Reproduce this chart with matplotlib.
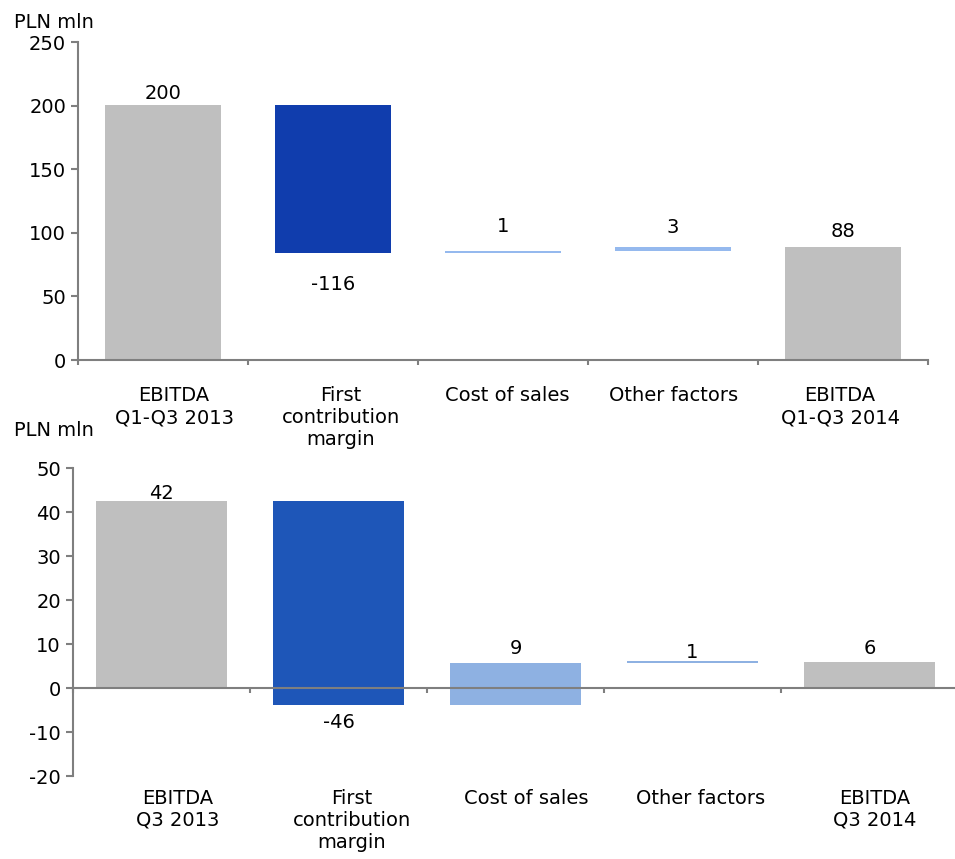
import numpy as np
import matplotlib.pyplot as plt

# top chart: Q1-Q3, PLN mln
top_labels = ['EBITDA\nQ1-Q3 2013', 'First\ncontribution\nmargin',
              'Cost of sales', 'Other factors', 'EBITDA\nQ1-Q3 2014']
top_values = [200.4, -116.0, 0.9, 3.2, 88.5]
top_texts = ['200', '-116', '1', '3', '88']

# bottom chart: Q3, PLN mln
bot_labels = ['EBITDA\nQ3 2013', 'First\ncontribution\nmargin',
              'Cost of sales', 'Other factors', 'EBITDA\nQ3 2014']
bot_values = [42.4, -46.3, 9.6, 0.4, 6.0]
bot_texts = ['42', '-46', '9', '1', '6']

GREY = '#bfbfbf'
AXIS = '#7f7f7f'
PX = 0.72  # points per pixel at dpi 100

plt.rcParams['font.family'] = ['DejaVu Sans Condensed', 'DejaVu Sans']
plt.rcParams['font.size'] = 14
plt.rcParams['axes.unicode_minus'] = False


def waterfall(values):
    """Return bottoms and heights of waterfall bars (first and last are totals)."""
    values = np.asarray(values, dtype=float)
    bottoms = np.zeros(len(values))
    heights = values.copy()
    running = values[0]
    for k in range(1, len(values) - 1):
        if values[k] < 0:
            bottoms[k] = running + values[k]
            heights[k] = -values[k]
        else:
            bottoms[k] = running
        running += values[k]
    return bottoms, heights


def draw(ax, labels, values, texts, colors, width, ylim, yticks,
         text_offsets, label_shift, label_drop, zero_axis):
    n = len(values)
    x = np.arange(n)
    bottoms, heights = waterfall(values)
    ax.bar(x, heights, bottom=bottoms, width=width, color=colors,
           edgecolor='none', zorder=2)
    for k in range(n):
        if values[k] < 0 and 0 < k < n - 1:
            y_ref = bottoms[k]
        else:
            y_ref = bottoms[k] + heights[k]
        ax.annotate(texts[k], (x[k], y_ref), xytext=(0, text_offsets[k] * PX),
                    textcoords='offset points', ha='center', va='center',
                    zorder=3)
    for k in range(n):
        ax.annotate(labels[k], (x[k], 0), xycoords=('data', 'axes fraction'),
                    xytext=((label_shift[0] - label_shift[1] * k) * PX,
                            -label_drop * PX),
                    textcoords='offset points', ha='center', va='top',
                    multialignment='center', annotation_clip=False)

    ax.set_xlim(-0.5, n - 0.5)
    ax.set_ylim(*ylim)
    ax.set_yticks(yticks)
    ax.set_xticks(np.arange(n + 1) - 0.5)
    ax.set_xticklabels([])
    ax.spines[['top', 'right']].set_visible(False)
    for s in ('left', 'bottom'):
        ax.spines[s].set_color(AXIS)
        ax.spines[s].set_linewidth(1.5)
    if zero_axis:
        ax.spines['bottom'].set_position(('data', 0))
    ax.tick_params(axis='y', direction='out', length=7 * PX, width=1.5,
                   color=AXIS, pad=5 * PX, labelsize=14)
    ax.tick_params(axis='x', direction='out', length=5 * PX, width=1.5,
                   color=AXIS)


fig = plt.figure(figsize=(9.55, 8.59), dpi=100)

ax1 = fig.add_axes([78 / 955, 1 - 360 / 859, 850 / 955, 318 / 859])
draw(ax1, top_labels, top_values, top_texts,
     [GREY, '#103dad', '#95b9ee', '#95b9ee', GREY], 0.68,
     (0, 250), np.arange(0, 251, 50),
     [12, -32, 25, 20, 16], (11, 3.5), 26, False)

ax2 = fig.add_axes([73 / 955, 1 - 776 / 859, 885 / 955, 308 / 859])
draw(ax2, bot_labels, bot_values, bot_texts,
     [GREY, '#1e56b8', '#8eb1e2', '#8eb1e2', GREY], 0.745,
     (-20, 50), np.arange(-20, 51, 10),
     [8, -17, 14, 9, 13], (16, 2.8), 13, True)

fig.text(14 / 955, 1 - 22 / 859, 'PLN mln', ha='left', va='center', fontsize=14)
fig.text(14 / 955, 1 - 431 / 859, 'PLN mln', ha='left', va='center', fontsize=14)

fig.savefig('out.png', dpi=100)
